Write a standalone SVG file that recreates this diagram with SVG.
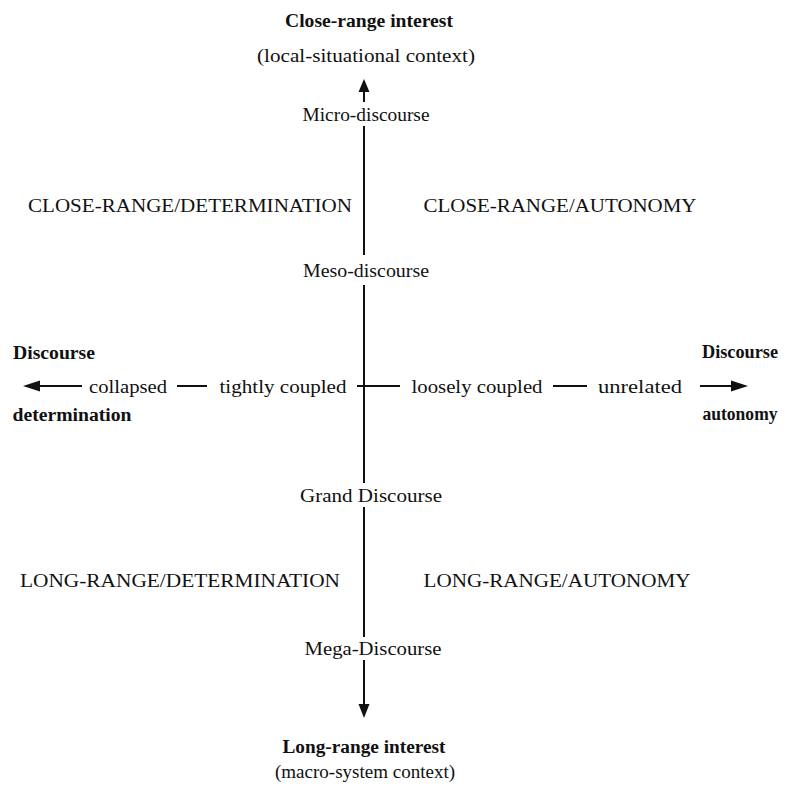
<svg xmlns="http://www.w3.org/2000/svg" width="787" height="787" viewBox="0 0 787 787">
<style>
text{font-family:"Liberation Serif","Times New Roman",serif;font-size:19px;fill:#111;text-anchor:middle}
.b{font-weight:bold;font-size:18px}
.ln{stroke:#111;stroke-width:2;fill:none}
.ah{fill:#111}
</style>
<rect width="787" height="787" fill="#fff"/>
<g id="connectors">
<line class="ln" x1="364" y1="88" x2="364" y2="102"/>
<polygon class="ah" points="364,79 358.5,92 369.5,92"/>
<line class="ln" x1="364" y1="126" x2="364" y2="255"/>
<line class="ln" x1="364" y1="285" x2="364" y2="483"/>
<line class="ln" x1="364" y1="507" x2="364" y2="637"/>
<line class="ln" x1="364" y1="660" x2="364" y2="708"/>
<polygon class="ah" points="364,718 358.5,704 369.5,704"/>
<line class="ln" x1="357" y1="386" x2="400" y2="386"/>
<line class="ln" x1="177" y1="386" x2="207" y2="386"/>
<line class="ln" x1="553" y1="386" x2="587" y2="386"/>
<line class="ln" x1="36" y1="386" x2="82" y2="386"/>
<polygon class="ah" points="23,386 40,380.5 40,391.5"/>
<line class="ln" x1="700" y1="386" x2="736" y2="386"/>
<polygon class="ah" points="748,386 731,380.5 731,391.5"/>
</g>
<g id="top"><text class="b" x="369" y="27" textLength="168" lengthAdjust="spacingAndGlyphs">Close-range interest</text>
<text x="366" y="62" textLength="218" lengthAdjust="spacingAndGlyphs">(local-situational context)</text></g>
<g id="micro"><text x="366" y="121" textLength="127" lengthAdjust="spacingAndGlyphs">Micro-discourse</text></g>
<g id="q-cd"><text x="190" y="212" textLength="324" lengthAdjust="spacingAndGlyphs">CLOSE-RANGE/DETERMINATION</text></g>
<g id="q-ca"><text x="560" y="212" textLength="273" lengthAdjust="spacingAndGlyphs">CLOSE-RANGE/AUTONOMY</text></g>
<g id="meso"><text x="366" y="277" textLength="126" lengthAdjust="spacingAndGlyphs">Meso-discourse</text></g>
<g id="left"><text class="b" x="54" y="359" textLength="82" lengthAdjust="spacingAndGlyphs">Discourse</text>
<text class="b" x="72" y="421" textLength="119" lengthAdjust="spacingAndGlyphs">determination</text></g>
<g id="collapsed"><text x="128" y="393" textLength="78" lengthAdjust="spacingAndGlyphs">collapsed</text></g>
<g id="tight"><text x="283" y="393" textLength="127" lengthAdjust="spacingAndGlyphs">tightly coupled</text></g>
<g id="loose"><text x="477" y="393" textLength="131" lengthAdjust="spacingAndGlyphs">loosely coupled</text></g>
<g id="unrelated"><text x="640" y="393" textLength="84" lengthAdjust="spacingAndGlyphs">unrelated</text></g>
<g id="right"><text class="b" x="740" y="358" textLength="76" lengthAdjust="spacingAndGlyphs">Discourse</text>
<text class="b" x="740" y="420" textLength="75" lengthAdjust="spacingAndGlyphs">autonomy</text></g>
<g id="grand"><text x="371" y="502" textLength="142" lengthAdjust="spacingAndGlyphs">Grand Discourse</text></g>
<g id="q-ld"><text x="180" y="587" textLength="320" lengthAdjust="spacingAndGlyphs">LONG-RANGE/DETERMINATION</text></g>
<g id="q-la"><text x="557" y="587" textLength="267" lengthAdjust="spacingAndGlyphs">LONG-RANGE/AUTONOMY</text></g>
<g id="mega"><text x="373" y="655" textLength="137" lengthAdjust="spacingAndGlyphs">Mega-Discourse</text></g>
<g id="bottom"><text class="b" x="364" y="753" textLength="163" lengthAdjust="spacingAndGlyphs">Long-range interest</text>
<text x="365" y="778" textLength="180" lengthAdjust="spacingAndGlyphs">(macro-system context)</text></g>
</svg>
